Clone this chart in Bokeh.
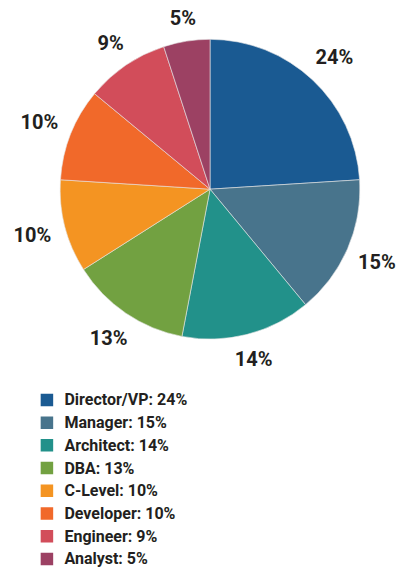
import math
from bokeh.plotting import figure
from bokeh.models import Range1d, ColumnDataSource
from bokeh.core.properties import value
from bokeh.embed import file_html
from bokeh.resources import INLINE

categories = ["Director/VP", "Manager", "Architect", "DBA", "C-Level", "Developer", "Engineer", "Analyst"]
shares = [24, 15, 14, 13, 10, 10, 9, 5]
colors = ["#1a5a92", "#48748c", "#22918a", "#72a141", "#f49422", "#f1692a", "#d24d5a", "#9c4163"]

W, H = 396, 568
FONT = "Roboto"
TXT = "#231f20"

p = figure(width=W, height=H, output_backend="svg", toolbar_location=None,
           x_range=Range1d(0, W), y_range=Range1d(0, H), min_border=0)
p.axis.visible = False
p.grid.visible = False
p.outline_line_color = None

# layout (scaled from a 412x584 design into the 396x568 figure)
SX, SY = W / 412, H / 584
S = (SX + SY) / 2
cx, cy, R = 218 * SX, H - 194 * SY, 155 * S
GAP = 14 * S
total = sum(shares)
starts, ends, lx, ly, labels = [], [], [], [], []
cum = 0
for s in shares:
    a0 = math.pi / 2 - 2 * math.pi * cum / total
    cum += s
    a1 = math.pi / 2 - 2 * math.pi * cum / total
    starts.append(a0)
    ends.append(a1)
    mid = (a0 + a1) / 2
    lab = f"{s}%"
    hw = 6.2 * len(lab)
    hh = 7.7
    r = R + GAP + hw * abs(math.cos(mid)) + hh * abs(math.sin(mid))
    x = cx + r * math.cos(mid)
    x = min(x, W - hw - 1)
    lx.append(x)
    ly.append(cy + r * math.sin(mid))
    labels.append(lab)

src = ColumnDataSource(dict(start=starts, end=ends, color=colors, lx=lx, ly=ly, label=labels))
p.wedge(x=cx, y=cy, radius=R, radius_units="screen", start_angle="start", end_angle="end",
        direction="clock", fill_color="color", line_color="#e6e6e6", line_width=0.6, source=src)
p.text(x="lx", y="ly", text="label", source=src, text_align="center", text_baseline="middle",
       text_font=value(FONT), text_font_style="bold", text_font_size="20px", text_color=TXT)

# legend
leg_y = [H - (410.7 + i * 23.35) * SY for i in range(len(categories))]
leg_text = [f"{c}: {s}%" for c, s in zip(categories, shares)]
lsrc = ColumnDataSource(dict(y=leg_y, color=colors, text=leg_text))
p.scatter(x=48.3 * SX, y="y", marker="square", size=12.5, fill_color="color", line_color=None, source=lsrc)
p.text(x=66.5 * SX, y="y", text="text", source=lsrc, text_align="left", text_baseline="middle",
       text_font=value(FONT), text_font_style="bold", text_font_size="16px", text_color=TXT)

open("out.html", "w").write(file_html(p, INLINE))
